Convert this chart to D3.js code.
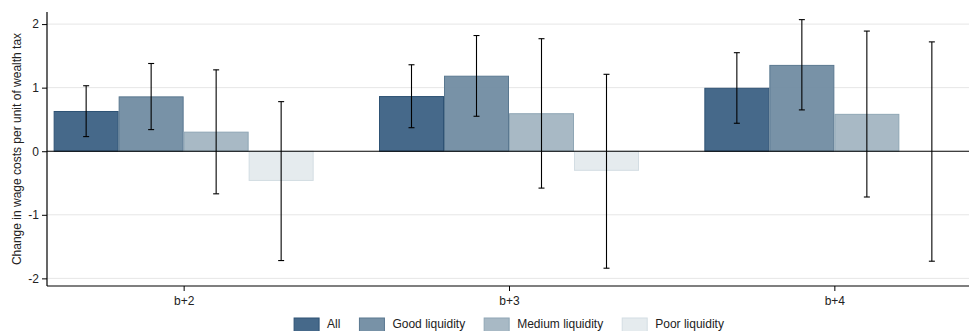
<!DOCTYPE html>
<html><head><meta charset="utf-8">
<script src="https://cdn.jsdelivr.net/npm/d3@7"></script>
<style>body{margin:0;background:#fff}svg{display:block}text{font-family:"Liberation Sans",Arial,sans-serif}</style>
</head><body>
<svg id="c" width="969" height="331"></svg>
<script>
const categories = ["b+2","b+3","b+4"];
const seriesNames = ["All","Good liquidity","Medium liquidity","Poor liquidity"];
const valAll    = [0.625, 0.86, 0.99];
const valGood   = [0.855, 1.18, 1.35];
const valMedium = [0.30, 0.59, 0.58];
const valPoor   = [-0.46, -0.30, 0.0];
const loAll    = [0.23, 0.37, 0.44];
const hiAll    = [1.03, 1.36, 1.55];
const loGood   = [0.34, 0.55, 0.65];
const hiGood   = [1.38, 1.82, 2.07];
const loMedium = [-0.67, -0.58, -0.72];
const hiMedium = [1.28, 1.77, 1.89];
const loPoor   = [-1.72, -1.84, -1.73];
const hiPoor   = [0.78, 1.21, 1.72];
const yTicks = [-2,-1,0,1,2];
const yTickLabels = ["-2","-1","0","1","2"];

const values = [valAll, valGood, valMedium, valPoor];
const los = [loAll, loGood, loMedium, loPoor];
const his = [hiAll, hiGood, hiMedium, hiPoor];
const fills = ["#46698a","#6c899f","#a8b9c5","#e5ebee"];
const strokes = ["#2e5274","#5a7890","#8fa6b5","#d3dde3"];
const fillOp = [1, 0.92, 1, 1];

const svg = d3.select("#c");
const L = 47, R = 971, T = 12, B = 286;
const y = d3.scaleLinear().domain([-2.12, 2.19]).range([B, T]);
const x = d3.scalePoint().domain(categories).range([L, R]).padding(0.42);
const inner = d3.scaleBand().domain(seriesNames).range([-130, 130]);

// gridlines
svg.append("g").selectAll("line").data(yTicks.filter(d=>d!==0)).join("line")
  .attr("x1", L).attr("x2", 969).attr("y1", d=>y(d)).attr("y2", d=>y(d))
  .attr("stroke", "#e6e6e6").attr("stroke-width", 1);

// bars
const data = [];
categories.forEach((c, i) => seriesNames.forEach((s, j) => {
  data.push({c, s, j, v: values[j][i], lo: los[j][i], hi: his[j][i]});
}));
svg.append("g").selectAll("rect").data(data.filter(d=>d.v!==0)).join("rect")
  .attr("x", d => x(d.c) + inner(d.s) + 0.5)
  .attr("width", inner.bandwidth() - 1)
  .attr("y", d => Math.min(y(d.v), y(0)))
  .attr("height", d => Math.abs(y(d.v) - y(0)))
  .attr("fill", d => fills[d.j]).attr("fill-opacity", d => fillOp[d.j])
  .attr("stroke", d => strokes[d.j]).attr("stroke-width", 1);

// zero line
svg.append("line").attr("x1", L).attr("x2", 969).attr("y1", y(0)).attr("y2", y(0))
  .attr("stroke", "#000").attr("stroke-width", 1.2);

// error bars
const eb = svg.append("g").attr("stroke", "#000").attr("stroke-width", 1.1);
data.forEach(d => {
  const cx = x(d.c) + inner(d.s) + inner.bandwidth()/2;
  eb.append("line").attr("x1", cx).attr("x2", cx).attr("y1", y(d.lo)).attr("y2", y(d.hi));
  eb.append("line").attr("x1", cx-3).attr("x2", cx+3).attr("y1", y(d.lo)).attr("y2", y(d.lo));
  eb.append("line").attr("x1", cx-3).attr("x2", cx+3).attr("y1", y(d.hi)).attr("y2", y(d.hi));
});

// axes
const yAxis = svg.append("g").attr("transform", `translate(${L},0)`)
  .call(d3.axisLeft(y).tickValues(yTicks).tickSize(5).tickPadding(3)
    .tickFormat((d, i) => yTickLabels[i]));
yAxis.select(".domain").attr("d", `M0,${T}V${B}`);
yAxis.selectAll("text").attr("font-size", 12).attr("fill", "#222");
const xAxis = svg.append("g").attr("transform", `translate(0,${B})`)
  .call(d3.axisBottom(x).tickSize(5).tickPadding(5));
xAxis.select(".domain").attr("d", `M${L},0H969`);
xAxis.selectAll("text").attr("font-size", 12).attr("fill", "#222");
svg.selectAll(".domain").attr("stroke", "#000").attr("stroke-width", 1.2);

svg.append("text").attr("transform", `translate(21,${(T+B)/2}) rotate(-90)`)
  .attr("text-anchor", "middle").attr("font-size", 12).attr("fill", "#222")
  .text("Change in wage costs per unit of wealth tax");

// legend
const lg = svg.append("g");
let pos = 0;
seriesNames.forEach((s, j) => {
  const g = lg.append("g");
  g.append("rect").attr("x", 0).attr("y", 318).attr("width", 25).attr("height", 16)
    .attr("fill", fills[j]).attr("fill-opacity", fillOp[j]).attr("stroke", strokes[j]);
  const t = g.append("text").attr("x", 33).attr("y", 328).attr("font-size", 12).attr("fill", "#222").text(s);
  const w = 33 + t.node().getComputedTextLength();
  g.attr("transform", `translate(${pos},0)`);
  pos += w + 19;
});
const total = pos - 19;
lg.attr("transform", `translate(${(L + 971)/2 - total/2},0)`);
</script>
</body></html>
